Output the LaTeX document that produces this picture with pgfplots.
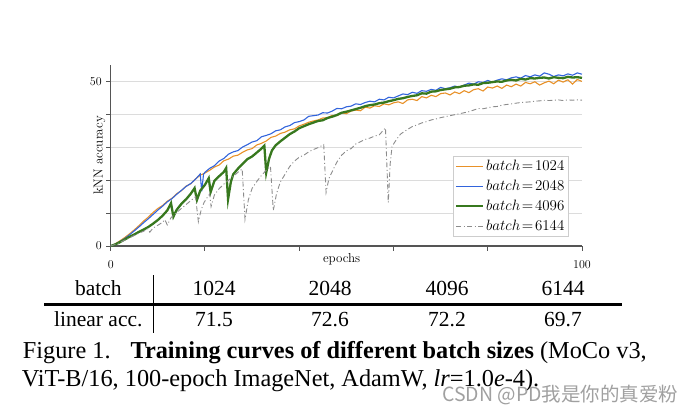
\RequirePackage{fix-cm}
\documentclass[border=0pt]{standalone}
\usepackage[no-math]{fontspec}
\setmainfont{Liberation Serif}
\newfontfamily\cjk{Noto Sans CJK SC}
\newcommand\lmr{\fontfamily{lmr}\selectfont}
\usepackage{pgfplots}
\pgfplotsset{compat=1.18}
\definecolor{cOrange}{RGB}{232,145,40}
\definecolor{cBlue}{RGB}{50,100,220}
\definecolor{cGreen}{RGB}{55,120,30}
\definecolor{cGray}{RGB}{140,140,140}
\definecolor{cAxis}{RGB}{85,85,85}
\definecolor{cGrid}{RGB}{220,220,220}
\begin{document}
\begin{tikzpicture}[x=1pt,y=1pt]
\path (0,0) rectangle (691,416);
\begin{axis}[
  at={(110.7pt,170pt)}, anchor=south west,
  scale only axis, width=471.3pt, height=181pt,
  xmin=0, xmax=100, ymin=0, ymax=55,
  axis lines=left,
  axis line style={-, draw=cAxis, line width=1.4pt},
  tick align=outside,
  major tick length=4.5pt,
  tick style={draw=cAxis, line width=1pt},
  xtick={0,20,40,60,80,100},
  xticklabels={0,,,,,100},
  ytick={0,10,20,30,40,50},
  yticklabels={0,,,,,50},
  ymajorgrids,
  major grid style={draw=cGrid, line width=0.9pt},
  tick label style={font=\lmr\fontsize{12}{12}\selectfont},
  xticklabel style={yshift=-6pt},
  yticklabel style={xshift=-1pt},
  label style={font=\lmr\fontsize{13}{13}\selectfont},
  xlabel={epochs},
  xlabel style={at={(axis description cs:0.49,-0.075)}, anchor=center},
  ylabel={kNN accuracy},
  ylabel style={at={(axis description cs:-0.024,0.5)}, anchor=center, rotate=0},
  legend cell align=left,
  legend style={at={(0.972,0.497)}, anchor=north east,
    draw={rgb,255:red,205;green,205;blue,205}, line width=0.8pt,
    font=\fontsize{15}{16}\selectfont, inner xsep=2pt, inner ysep=2pt,
    row sep=4pt},
  legend image code/.code={\draw[#1] (0pt,0pt) -- (27pt,0pt);},
]
\addplot[cOrange, line width=1.1pt] coordinates {
(0,0) (1,0.7) (2,1.6) (3,2.6) (4,3.7) (5,4.9) (6,6.2) (7,7.6) (8,8.8) (9,10.2)
(10,11.4) (11,12.3) (12,13.6) (13,14.5) (14,15.9) (15,16.8) (16,18.2) (17,18.9) (18,20.4) (19,21.5)
(20,22.2) (21,23.0) (22,24.0) (23,24.6) (24,25.9) (25,26.4) (26,27.3) (27,27.6) (28,28.5) (29,29.2)
(30,29.6) (31,30.7) (32,31.2) (33,31.9) (34,33.0) (35,33.4) (36,34.2) (37,34.6) (38,35.3) (39,35.6)
(40,36.5) (41,37.0) (42,37.6) (43,38.0) (44,38.3) (45,38.9) (46,39.0) (47,39.7) (48,39.6) (49,40.5)
(50,40.2) (51,41.0) (52,41.3) (53,41.1) (54,42.2) (55,41.9) (56,42.6) (57,42.4) (58,43.2) (59,42.9)
(60,43.5) (61,43.8) (62,43.3) (63,44.4) (64,44.6) (65,44.2) (66,45.4) (67,45.0) (68,45.8) (69,45.4)
(70,46.3) (71,46.5) (72,45.9) (73,46.8) (74,46.3) (75,47.2) (76,46.6) (77,47.5) (78,47.8) (79,47.1)
(80,48.3) (81,48.0) (82,48.6) (83,47.9) (84,48.9) (85,48.4) (86,49.2) (87,48.6) (88,49.7) (89,49.3)
(90,49.9) (91,48.9) (92,49.6) (93,50.1) (94,49.3) (95,50.4) (96,49.8) (97,50.5) (98,49.2) (99,50.6) (100,50.0)
};
\addlegendentry{$batch\mkern2mu{=}\mkern2mu1024$}
\addplot[cBlue, line width=1.1pt] coordinates {
(0,0) (1,0.6) (2,1.4) (3,2.3) (4,3.4) (5,4.6) (6,5.8) (7,7.1) (8,8.3) (9,9.6)
(10,10.9) (11,12.1) (12,13.4) (13,14.4) (14,15.7) (15,16.9) (16,18.1) (17,19.0) (18,20.3) (19,21.9)
(19.3,16.6) (19.7,21.8) (20,22.4) (21,23.6) (22,24.4) (23,25.8) (24,26.6) (25,27.9) (26,28.6) (27,29.0) (28,30.1) (29,30.8)
(30,31.6) (31,32.0) (32,33.2) (33,33.6) (34,34.1) (35,35.0) (36,35.3) (37,36.2) (38,36.6) (39,37.5)
(40,37.8) (41,38.3) (42,39.4) (43,39.6) (44,39.8) (45,40.5) (46,40.4) (47,41.0) (48,41.8) (49,41.7)
(50,42.3) (51,42.5) (52,43.2) (53,43.0) (54,43.6) (55,44.0) (56,43.8) (57,44.6) (58,44.4) (59,45.2)
(60,45.0) (61,45.6) (62,46.2) (63,46.0) (64,46.7) (65,46.4) (66,47.2) (67,47.0) (68,47.6) (69,47.3)
(70,48.2) (71,47.8) (72,48.1) (73,48.6) (74,48.3) (75,48.9) (76,49.5) (77,49.2) (78,49.9) (79,49.7)
(80,50.3) (81,49.8) (82,50.4) (83,50.8) (84,50.5) (85,51.1) (86,51.4) (87,51.0) (88,51.8) (89,51.4)
(90,52.0) (91,51.6) (92,52.6) (93,52.2) (94,51.5) (95,52.0) (96,51.7) (97,52.3) (98,51.9) (99,52.6) (100,52.2)
};
\addlegendentry{$batch\mkern2mu{=}\mkern2mu2048$}
\addplot[cGreen, line width=2.3pt] coordinates {
(0,0) (1,0.5) (2,1.2) (3,2.0) (4,2.8) (5,3.5) (6,4.3) (7,5.0) (8,5.8) (9,6.8)
(10,7.9) (11,9.2) (12,10.8) (12.8,13.0) (13.3,8.9) (14,11.0) (15,12.8) (16,14.2) (17,15.9) (17.8,17.6)
(18.3,14.0) (19,16.8) (20,18.6) (20.8,20.6) (21.2,16.4) (22,19.8) (23,21.2) (24,22.5) (24.5,23.7) (24.9,14.2)
(25.5,19.5) (26,21.8) (27,23.5) (28,25.0) (29,26.4) (30,27.2) (31,28.4) (32,29.6) (32.6,30.5) (33,22.3)
(33.6,26.5) (34.2,29.0) (35,30.6) (36,31.8) (37,32.9) (38,34.0) (39,34.8) (40,35.8) (41,36.4) (42,37.0)
(43,37.5) (44,38.0) (45,38.2) (46,38.9) (47,39.3) (48,39.8) (49,40.5) (50,40.8) (51,41.2) (52,41.6)
(53,42.0) (54,42.5) (55,42.8) (56,43.0) (57,43.4) (58,43.6) (59,44.0) (60,44.3) (61,44.7) (62,44.9)
(63,45.3) (64,45.6) (65,45.8) (66,46.4) (67,46.3) (68,46.9) (69,47.0) (70,47.4) (71,47.6) (72,47.8)
(73,48.2) (74,48.3) (75,48.7) (76,48.8) (77,49.1) (78,49.0) (79,49.5) (80,49.6) (81,49.8) (82,50.0)
(83,49.9) (84,50.3) (85,50.5) (86,50.3) (87,50.8) (88,50.6) (89,51.0) (90,50.9) (91,51.1) (92,51.2)
(93,50.9) (94,51.3) (95,51.1) (96,51.0) (97,51.4) (98,51.2) (99,51.3) (100,51.1)
};
\addlegendentry{$batch\mkern2mu{=}\mkern2mu4096$}
\addplot[cGray, line width=0.9pt, dash pattern=on 5pt off 2.5pt on 1pt off 2.5pt] coordinates {
(0,0) (1,0.5) (2,1.1) (3,1.8) (4,2.5) (5,3.2) (6,3.9) (7,4.5) (7.8,5.3) (8.3,4.2)
(9,5.5) (10,6.3) (11,7.2) (11.5,8.0) (12,6.4) (12.8,8.6) (14,10.2) (15,11.4) (16,12.6) (17,13.8)
(18,15.0) (18.6,7.4) (19.2,11.0) (19.8,13.2) (20.5,14.8) (21,15.8) (21.3,12.0) (22,15.5) (23,17.4) (24,18.8)
(25,20.0) (26,21.2) (27,22.4) (27.9,23.4) (28.5,8.1) (29.2,14.0) (30,17.5) (31,19.6) (32,21.5) (33,23.0)
(33.9,24.2) (34.5,10.8) (35.2,16.0) (36,19.5) (37,21.8) (38,24.2) (39,25.8) (40,27.0) (41,27.6) (42,28.6)
(43,29.3) (44,29.9) (45.2,30.8) (45.7,16.3) (46.3,20.5) (47.2,23.2) (48,25.5) (49,27.6) (50,28.9) (51,29.6)
(52,31.0) (53,31.7) (54,32.4) (55,32.8) (56,33.4) (57,33.8) (58.3,35.9) (58.9,13.2) (59.3,25.0) (59.7,30.3)
(60.7,32.5) (61.5,34.0) (62.5,35.0) (64,36.3) (65,36.8) (66,37.4) (67,37.8) (68,38.3) (69,38.6) (70,39.0)
(71,39.3) (72,39.6) (73,39.9) (74,40.2) (75,40.5) (76,40.8) (77,41.3) (78,41.8) (79,41.7) (80,42.0)
(81,42.3) (82,42.4) (83,42.8) (84,43.0) (85,43.2) (86,43.4) (87,43.6) (88,43.7) (89,43.8) (90,44.0)
(91,44.1) (92,44.3) (93,44.2) (94,44.3) (95,44.4) (96,44.2) (97,44.4) (98,44.3) (99,44.4) (100,44.3)
};
\addlegendentry{$batch\mkern2mu{=}\mkern2mu6144$}
\end{axis}
% table
\draw[line width=2.7pt] (44,111.7) -- (621.7,111.7);
\draw[line width=1.2pt] (153.3,141) -- (153.3,83);
\begin{scope}[every node/.style={inner sep=0pt, anchor=base, font=\fontsize{21.5}{24}\selectfont}]
\node at (98.3,120.3) {batch};
\node at (214,120.3) {1024};
\node at (330,120.3) {2048};
\node at (447,120.3) {4096};
\node at (563,120.3) {6144};
\node at (98.3,89.3) {linear acc.};
\node at (214,89.3) {71.5};
\node at (330,89.3) {72.6};
\node at (447,89.3) {72.2};
\node at (563,89.3) {69.7};
\end{scope}
% caption
\node[inner sep=0pt, anchor=base west, font=\fontsize{24.3}{28}\selectfont] at (22.7,57.7)
  {Figure 1.\hspace{20pt}\textbf{Training curves of different batch sizes} (MoCo v3,};
\node[inner sep=0pt, anchor=base west, font=\fontsize{24.3}{28}\selectfont] at (21.7,29.3)
  {ViT-B/16, 100-epoch ImageNet, AdamW, \textit{lr}=1.0\textit{e}-4).};
\node[inner sep=0pt, anchor=base west, text={rgb,255:red,160;green,160;blue,160}, font=\cjk\fontsize{19.5}{22}\selectfont] at (442,15)
  {CSDN @PD我是你的真爱粉};
\end{tikzpicture}
\end{document}
